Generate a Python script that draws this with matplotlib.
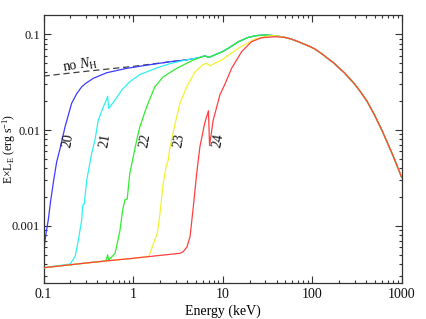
import matplotlib
matplotlib.use("Agg")
import matplotlib.pyplot as plt
from matplotlib.ticker import NullFormatter, LogLocator

plt.rcParams['font.family'] = ['Liberation Serif', 'DejaVu Serif']
plt.rcParams['mathtext.fontset'] = 'custom'
plt.rcParams['mathtext.rm'] = 'Liberation Serif'
plt.rcParams['mathtext.it'] = 'Liberation Serif:italic'

# ---------------- data ----------------
# intrinsic (no N_H) spectrum
intr_E = [0.1, 0.3, 1, 2.6, 4, 4.92, 5.6, 6.35, 6.9, 7.4, 8.2, 10, 11.6, 15, 19.4,
          24, 30, 38.4, 48, 58, 73, 94.6, 108, 130, 175, 230, 300, 350, 410, 500,
          600, 700, 800, 900, 1000]
intr_F = [0.0366, 0.0411, 0.0462, 0.0517, 0.0542, 0.056, 0.0575, 0.0597, 0.0575,
          0.0585, 0.061, 0.066, 0.0715, 0.0837, 0.093, 0.097, 0.0985, 0.0967,
          0.0935, 0.0895, 0.0825, 0.0745, 0.07, 0.062, 0.05, 0.0395, 0.03, 0.0248,
          0.02, 0.0142, 0.0100, 0.0072, 0.0054, 0.0041, 0.0032]

# scattered floor at low energies
floor_E = [0.1, 0.3, 0.48, 1, 2, 3.34, 3.64]
floor_F = [0.000364, 0.000408, 0.000427, 0.000457, 0.00049, 0.000515, 0.000537]

# absorbed curves (log N_H = 20 ... 24)
blue_E = [0.1, 0.106, 0.113, 0.12, 0.13, 0.14, 0.153, 0.174, 0.206, 0.235, 0.267,
          0.3, 0.36, 0.508, 0.85, 1.55, 2.6]
blue_F = [0.00052, 0.0008, 0.00115, 0.0018, 0.003, 0.0046, 0.0064, 0.0108, 0.019,
          0.024, 0.0283, 0.031, 0.0347, 0.0397, 0.0441, 0.0482, 0.0517]

cyan_E = [0.198, 0.225, 0.245, 0.267, 0.274, 0.285, 0.304, 0.345, 0.376, 0.409,
          0.466, 0.508, 0.52, 0.535, 0.63, 0.75, 0.92, 1.19, 1.84, 2.6, 4]
cyan_F = [0.000398, 0.000474, 0.00071, 0.00115, 0.00164, 0.00168, 0.003, 0.0057,
          0.0079, 0.0127, 0.0175, 0.021, 0.0225, 0.0168, 0.0206, 0.0262, 0.032,
          0.038, 0.0445, 0.0495, 0.0542]

green_E = [0.5, 0.52, 0.535, 0.63, 0.685, 0.715, 0.765, 0.81, 0.86, 0.92, 1.1,
           1.19, 1.42, 1.75, 2.17, 3.07, 4.7, 6.35]
green_F = [0.000435, 0.000497, 0.000437, 0.000515, 0.00074, 0.0009, 0.00146,
           0.00186, 0.0019, 0.00353, 0.0079, 0.0108, 0.0175, 0.0283, 0.036,
           0.0441, 0.0539, 0.0597]

yellow_E = [1.5, 1.54, 1.75, 1.87, 2.0, 2.17, 2.34, 2.47, 2.59, 2.95, 3.34, 3.97,
            4.92, 6.0, 6.6, 7.2, 9.8, 15, 23, 32]
yellow_F = [0.000476, 0.000515, 0.00071, 0.00084, 0.00135, 0.00277, 0.00414,
            0.00486, 0.00669, 0.0117, 0.019, 0.0283, 0.0405, 0.048, 0.0498,
            0.047, 0.054, 0.0715, 0.0893, 0.096]

red_E = [4.0, 4.33, 4.71, 5.14, 5.58, 6.3, 6.95, 7.15, 7.86, 9.36, 10.6, 12.6,
         16.3, 21, 27.3, 38.4, 49, 58]
red_F = [0.0006, 0.000767, 0.00158, 0.00353, 0.00669, 0.0117, 0.0159, 0.0069,
         0.0127, 0.0235, 0.030, 0.0441, 0.0658, 0.0837, 0.0922, 0.0944, 0.093,
         0.0895]

labels = ['20', '21', '22', '23', '24']
label_E = [0.188, 0.486, 1.36, 3.26, 8.9]
label_F = [0.0077, 0.0077, 0.0077, 0.0077, 0.0077]

xticks = [0.1, 1, 10, 100, 1000]
xticklabels = ['0.1', '1', '10', '100', '1000']
yticks = [0.001, 0.01, 0.1]
yticklabels = ['0.001', '0.01', '0.1']


def full_curve(E, F):
    """floor below the curve's start, the curve itself, intrinsic above its end"""
    e0, e1 = E[0], E[-1]
    xs = [e for e in floor_E if e < e0] + list(E) + [e for e in intr_E if e > e1]
    ys = ([f for e, f in zip(floor_E, floor_F) if e < e0] + list(F)
          + [f for e, f in zip(intr_E, intr_F) if e > e1])
    return xs, ys


fig = plt.figure(figsize=(4.27, 3.19), dpi=100)
ax = fig.add_axes([0.1019, 0.1138, 0.8388, 0.8382])
ax.set_xscale('log')
ax.set_yscale('log')
ax.set_xlim(0.1, 1000)
ax.set_ylim(0.000254, 0.158)

# dashed intrinsic
dE = [e for e in intr_E if e <= 4]
dF = [f for e, f in zip(intr_E, intr_F) if e <= 4]
ax.plot(dE, dF, color='#404040', lw=0.9, ls=(0, (5, 3)), zorder=1)

curves = [(blue_E, blue_F, '#3c3cff'),
          (cyan_E, cyan_F, '#30f0f0'),
          (green_E, green_F, '#30ee30'),
          (yellow_E, yellow_F, '#f2f230'),
          (red_E, red_F, '#ff4040')]
for i, (E, F, c) in enumerate(curves):
    xs, ys = full_curve(E, F)
    ax.plot(xs, ys, color=c, lw=0.9, zorder=2 + i)

for t, e, f in zip(labels, label_E, label_F):
    ax.text(e, f, t, rotation=80, ha='center', va='center', fontsize=10,
            color='#111111', zorder=10)

ax.text(0.256, 0.0478, r'no $N_{\rm H}$', rotation=9, ha='center', va='center',
        fontsize=10, color='#111111')

ax.set_xlabel('Energy (keV)', fontsize=10, labelpad=2)
ax.set_ylabel(r'E$\times$L$_{\rm E}$ (erg s$^{-1}$)', fontsize=8.5)
ax.yaxis.set_label_coords(-0.072, 0.5)

ax.set_xticks(xticks)
ax.set_xticklabels(xticklabels)
ax.set_yticks(yticks)
ax.set_yticklabels(yticklabels)
ax.xaxis.set_minor_locator(LogLocator(base=10, subs=range(2, 10), numticks=20))
ax.yaxis.set_minor_locator(LogLocator(base=10, subs=range(2, 10), numticks=20))
ax.xaxis.set_minor_formatter(NullFormatter())
ax.yaxis.set_minor_formatter(NullFormatter())
ax.tick_params(which='both', direction='in', top=True, right=True, color='#333333',
               labelcolor='#111111')
ax.tick_params(axis='x', which='major', length=5, width=0.8, pad=4, labelsize=10)
ax.tick_params(axis='y', which='major', length=5, width=0.8, pad=2.5, labelsize=9)
ax.tick_params(which='minor', length=2.5, width=0.8)
for s in ax.spines.values():
    s.set_color('#333333')
    s.set_linewidth(0.9)

fig.savefig('out.png', dpi=100)
